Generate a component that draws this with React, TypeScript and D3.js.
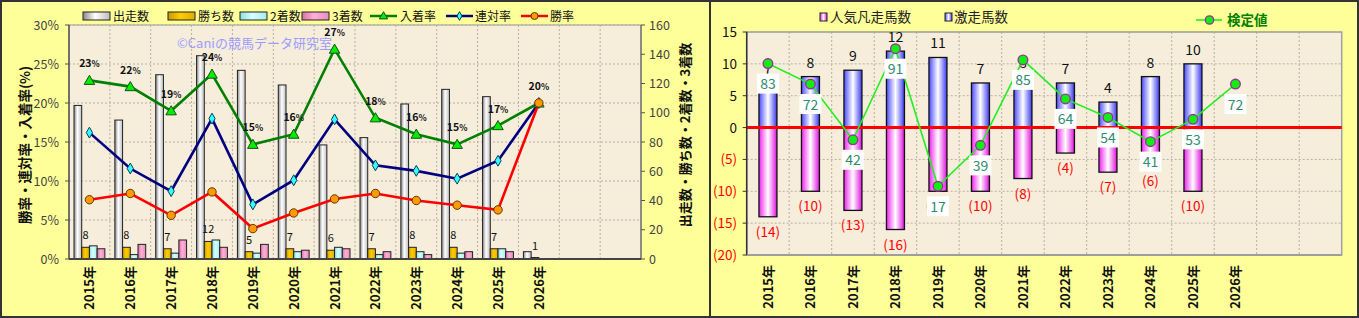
import React from 'react';
import * as d3 from 'd3';

// ---------- data ----------
const years = ['2015年','2016年','2017年','2018年','2019年','2020年','2021年','2022年','2023年','2024年','2025年','2026年'];
const slotCount = 14;

const runners = [105, 95, 126, 139, 129, 119, 78, 83, 106, 116, 111, 5];
const wins = [8, 8, 7, 12, 5, 7, 6, 7, 8, 8, 7, 1];
const seconds = [9, 3, 4, 13, 4, 5, 8, 3, 5, 4, 7, 0];
const thirds = [7, 10, 13, 8, 10, 6, 7, 5, 3, 5, 5, 0];

const winRate = [7.6, 8.4, 5.6, 8.6, 3.9, 5.9, 7.7, 8.4, 7.5, 6.9, 6.3, 20];
const rentaiRate = [16.2, 11.6, 8.7, 18.0, 7.0, 10.1, 17.9, 12.0, 11.3, 10.3, 12.6, 20];
const placeRate = [22.9, 22.1, 19.0, 23.7, 14.7, 16.0, 26.9, 18.1, 16.0, 14.7, 17.1, 20];

const leftTicksPct = [0, 5, 10, 15, 20, 25, 30];
const rightTicksCnt = [0, 20, 40, 60, 80, 100, 120, 140, 160];

const gekisou: (number | null)[] = [7, 8, 9, 12, 11, 7, 8, 7, 4, 8, 10, null];
const bonsou: (number | null)[] = [14, 10, 13, 16, 10, 10, 8, 4, 7, 6, 10, null];
const kentei = [83, 72, 42, 91, 17, 39, 85, 64, 54, 41, 53, 72];
const rightTicks = [-20, -15, -10, -5, 0, 5, 10, 15];

const barSeries = ['出走数', '勝ち数', '2着数', '3着数'];
const barData = [runners, wins, seconds, thirds];
const barFills = ['url(#gRun)', 'url(#gWin)', 'url(#gSec)', 'url(#gThi)'];

const FONT = "'Noto Sans CJK JP', 'Noto Sans', sans-serif";

export default function App() {
  // ---------- left chart ----------
  const L = { x0: 69, x1: 641, y0: 25, y1: 259 };
  const xL = d3.scaleBand<number>().domain(d3.range(slotCount)).range([L.x0, L.x1]);
  const bwL = xL.bandwidth();
  const sub = d3.scaleBand<string>().domain(barSeries).range([5, bwL - 5]);
  const yPct = d3.scaleLinear().domain([0, 30]).range([L.y1, L.y0]);
  const yCnt = d3.scaleLinear().domain([0, 160]).range([L.y1, L.y0]);
  const cx = (i: number) => (xL(i) as number) + bwL / 2;
  const lineGen = (arr: number[]) =>
    d3.line<number>().x((_, i) => cx(i)).y((v) => yPct(v))(arr) || '';

  // ---------- right chart ----------
  const R = { x0: 746.7, x1: 1341.7, y0: 32, y1: 255 };
  const xR = d3.scaleBand<number>().domain(d3.range(slotCount)).range([R.x0, R.x1]);
  const bwR = xR.bandwidth();
  const barWR = 18;
  const yC = d3.scaleLinear().domain([-20, 15]).range([R.y1, R.y0]);
  const yK = d3.scaleLinear().domain([-20, 100]).range([R.y1, R.y0]);
  const cxR = (i: number) => (xR(i) as number) + bwR / 2;
  const kLine = d3.line<number>().x((_, i) => cxR(i)).y((v) => yK(v))(kentei) || '';

  const tri = d3.symbol().type(d3.symbolTriangle).size(48)() || '';
  const dia = d3.symbol().type(d3.symbolDiamond).size(34)() || '';

  const grid = '#b8b0a0';

  return (
    <svg width={1359} height={318} style={{ position: 'absolute', left: 0, top: 0, fontFamily: FONT }}>
      <defs>
        <linearGradient id="gRun" x1="0" x2="1" y1="0" y2="0">
          <stop offset="0" stopColor="#8a8a8a" />
          <stop offset="0.45" stopColor="#ffffff" />
          <stop offset="1" stopColor="#bdbdbd" />
        </linearGradient>
        <linearGradient id="gWin" x1="0" x2="1" y1="0" y2="0">
          <stop offset="0" stopColor="#c99700" />
          <stop offset="0.45" stopColor="#ffcc00" />
          <stop offset="1" stopColor="#e0ac00" />
        </linearGradient>
        <linearGradient id="gSec" x1="0" x2="1" y1="0" y2="0">
          <stop offset="0" stopColor="#8fdede" />
          <stop offset="0.45" stopColor="#d4ffff" />
          <stop offset="1" stopColor="#a6eaea" />
        </linearGradient>
        <linearGradient id="gThi" x1="0" x2="1" y1="0" y2="0">
          <stop offset="0" stopColor="#dc6fa6" />
          <stop offset="0.45" stopColor="#ffb0d8" />
          <stop offset="1" stopColor="#e68cbb" />
        </linearGradient>
        <linearGradient id="gBlue" x1="0" x2="1" y1="0" y2="0">
          <stop offset="0" stopColor="#4a4aff" />
          <stop offset="0.5" stopColor="#ffffff" />
          <stop offset="1" stopColor="#3a3af0" />
        </linearGradient>
        <linearGradient id="gPink" x1="0" x2="1" y1="0" y2="0">
          <stop offset="0" stopColor="#ee22ee" />
          <stop offset="0.5" stopColor="#ffffff" />
          <stop offset="1" stopColor="#e010e0" />
        </linearGradient>
      </defs>

      {/* page background */}
      <rect x={0} y={0} width={1359} height={318} fill="#ffff99" />

      {/* ================= LEFT CHART ================= */}
      <rect x={L.x0} y={L.y0} width={L.x1 - L.x0} height={L.y1 - L.y0} fill="#f6eddb" stroke="#9a9a9a" />
      {leftTicksPct.map((t) => (
        <line key={'hg' + t} x1={L.x0} x2={L.x1} y1={yPct(t)} y2={yPct(t)} stroke={grid} strokeDasharray="2,2" />
      ))}
      {d3.range(1, slotCount).map((i) => (
        <line key={'vg' + i} x1={xL(i) as number} x2={xL(i) as number} y1={L.y0} y2={L.y1} stroke={grid} strokeDasharray="2,2" />
      ))}

      {/* watermark */}
      <text x={177} y={47.5} fontSize={13} fill="#9c9cff">©Caniの競馬データ研究室</text>

      {/* bars */}
      {barData.map((arr, s) =>
        arr.map((v, i) => {
          const x = (xL(i) as number) + (sub(barSeries[s]) as number);
          const y = yCnt(v);
          return (
            <rect key={`b${s}-${i}`} x={x} y={y} width={sub.bandwidth()} height={L.y1 - y}
              fill={barFills[s]} stroke="#222" strokeWidth={1} />
          );
        })
      )}
      {/* win count labels */}
      {wins.map((v, i) => (
        <text key={'wl' + i} x={(xL(i) as number) + (sub('勝ち数') as number) + sub.bandwidth() / 2}
          y={yCnt(v) - 8} fontSize={11} textAnchor="middle" fill="#111">{v}</text>
      ))}

      {/* lines */}
      <path d={lineGen(placeRate)} fill="none" stroke="#008000" strokeWidth={2.6} />
      <path d={lineGen(rentaiRate)} fill="none" stroke="#000080" strokeWidth={2.6} />
      <path d={lineGen(winRate)} fill="none" stroke="#ff0000" strokeWidth={2.6} />
      {placeRate.map((v, i) => (
        <path key={'tm' + i} d={tri} transform={`translate(${cx(i)},${yPct(v) + 1})`} fill="#00ee00" stroke="#1a4d1a" strokeWidth={1} />
      ))}
      {rentaiRate.map((v, i) => (
        <path key={'dm' + i} d={dia} transform={`translate(${cx(i)},${yPct(v)})`} fill="#33ffff" stroke="#0b3b5b" strokeWidth={1} />
      ))}
      {winRate.map((v, i) => (
        <circle key={'cm' + i} cx={cx(i)} cy={yPct(v)} r={4.2} fill="#ff9900" stroke="#663300" strokeWidth={1} />
      ))}
      {placeRate.map((v, i) => (
        <text key={'pl' + i} x={cx(i)} y={yPct(v) - 13} fontSize={10.5} fontWeight="bold" textAnchor="middle" fill="#111">
          {Math.round(v)}<tspan fontSize={8.5}>%</tspan>
        </text>
      ))}

      {/* axes */}
      <line x1={L.x0} x2={L.x0} y1={L.y0} y2={L.y1} stroke="#555" strokeWidth={1.5} />
      <line x1={L.x1} x2={L.x1} y1={L.y0} y2={L.y1} stroke="#666" strokeWidth={1.2} />
      <line x1={L.x0} x2={L.x1} y1={L.y1} y2={L.y1} stroke="#444" strokeWidth={1.8} />
      {leftTicksPct.map((t) => (
        <g key={'lt' + t}>
          <line x1={L.x0 - 4} x2={L.x0} y1={yPct(t)} y2={yPct(t)} stroke="#555" />
          <text x={59} y={yPct(t) + 4.5} fontSize={12.5} textAnchor="end" fill="#444">{t}%</text>
        </g>
      ))}
      {rightTicksCnt.map((t) => (
        <g key={'rt' + t}>
          <line x1={L.x1} x2={L.x1 + 4} y1={yCnt(t)} y2={yCnt(t)} stroke="#555" />
          <text x={649} y={yCnt(t) + 4.5} fontSize={12.5} textAnchor="start" fill="#444">{t}</text>
        </g>
      ))}
      {years.map((yr, i) => (
        <text key={'xl' + i} transform={`translate(${cx(i) + 5},266) rotate(-90)`} fontSize={13} fontWeight="bold" textAnchor="end" fill="#111">{yr}</text>
      ))}
      <text transform="translate(30,145) rotate(-90)" fontSize={13.5} fontWeight="bold" textAnchor="middle" fill="#111">勝率・連対率・入着率(%)</text>
      <text transform="translate(690,135) rotate(-90)" fontSize={13} fontWeight="bold" textAnchor="middle" fill="#111">出走数・勝ち数・2着数・3着数</text>

      {/* left legend */}
      {barSeries.map((s, k) => {
        const xs = [83, 168, 240, 302][k];
        return (
          <g key={'lg' + k}>
            <rect x={xs} y={12} width={27} height={8} fill={barFills[k]} stroke="#222" />
            <text x={xs + 30} y={21} fontSize={12} fill="#111">{s}</text>
          </g>
        );
      })}
      <g>
        <line x1={370} x2={397} y1={16} y2={16} stroke="#008000" strokeWidth={2.5} />
        <path d={d3.symbol().type(d3.symbolTriangle).size(30)() || ''} transform="translate(383.5,16.5)" fill="#00ee00" stroke="#1a4d1a" />
        <text x={400} y={21} fontSize={12} fill="#111">入着率</text>
        <line x1={446} x2={473} y1={16} y2={16} stroke="#000080" strokeWidth={2.5} />
        <path d={d3.symbol().type(d3.symbolDiamond).size(22)() || ''} transform="translate(459.5,16)" fill="#33ffff" stroke="#0b3b5b" />
        <text x={475} y={21} fontSize={12} fill="#111">連対率</text>
        <line x1={521} x2={548} y1={16} y2={16} stroke="#ff0000" strokeWidth={2.5} />
        <circle cx={534.5} cy={16} r={3.5} fill="#ff9900" stroke="#663300" />
        <text x={550} y={21} fontSize={12} fill="#111">勝率</text>
      </g>

      {/* ================= RIGHT CHART ================= */}
      <rect x={R.x0} y={R.y0} width={R.x1 - R.x0} height={R.y1 - R.y0} fill="#f6eddb" />
      {rightTicks.map((t) => (
        <line key={'rhg' + t} x1={R.x0} x2={R.x1} y1={yC(t)} y2={yC(t)} stroke={grid} strokeDasharray="2,2" />
      ))}
      {d3.range(1, slotCount).map((i) => (
        <line key={'rvg' + i} x1={xR(i) as number} x2={xR(i) as number} y1={R.y0} y2={R.y1} stroke={grid} strokeDasharray="2,2" />
      ))}
      <rect x={R.x0} y={R.y0} width={R.x1 - R.x0} height={R.y1 - R.y0} fill="none" stroke="#a0a0a0" strokeWidth={1.5} />

      {bonsou.map((v, i) =>
        v == null ? null : (
          <rect key={'pb' + i} x={cxR(i) - barWR / 2} y={yC(0)} width={barWR} height={yC(-v) - yC(0)}
            fill="url(#gPink)" stroke="#111" strokeWidth={1.3} />
        )
      )}
      {gekisou.map((v, i) =>
        v == null ? null : (
          <rect key={'bb' + i} x={cxR(i) - barWR / 2} y={yC(v)} width={barWR} height={yC(0) - yC(v)}
            fill="url(#gBlue)" stroke="#111" strokeWidth={1.3} />
        )
      )}
      <line x1={R.x0} x2={R.x1} y1={yC(0)} y2={yC(0)} stroke="#ff0000" strokeWidth={3} />

      {gekisou.map((v, i) =>
        v == null ? null : (
          <text key={'gl' + i} x={cxR(i)} y={yC(v) - 9} fontSize={14} textAnchor="middle" fill="#111">{v}</text>
        )
      )}
      {bonsou.map((v, i) =>
        v == null ? null : (
          <text key={'bl' + i} x={cxR(i)} y={yC(-v) + 20} fontSize={13.5} textAnchor="middle" fill="#ff0000">({v})</text>
        )
      )}

      <path d={kLine} fill="none" stroke="#22ee22" strokeWidth={1.6} />
      {kentei.map((v, i) => (
        <circle key={'km' + i} cx={cxR(i)} cy={yK(v)} r={4.8} fill="#11ee11" stroke="#993399" strokeWidth={1.4} />
      ))}
      {kentei.map((v, i) => (
        <g key={'kl' + i}>
          <rect x={cxR(i) - 11} y={yK(v) + 10} width={22} height={20} fill="#ffffff" />
          <text x={cxR(i)} y={yK(v) + 25.5} fontSize={14} textAnchor="middle" fill="#2e8b6e">{v}</text>
        </g>
      ))}

      <line x1={R.x0} x2={R.x0} y1={R.y0} y2={R.y1} stroke="#333" strokeWidth={1.5} />
      <line x1={R.x0} x2={R.x1} y1={R.y1} y2={R.y1} stroke="#999" strokeWidth={1.5} />
      {rightTicks.map((t) => (
        <g key={'rtk' + t}>
          <line x1={R.x0 - 4} x2={R.x0} y1={yC(t)} y2={yC(t)} stroke="#333" />
          <text x={737} y={yC(t) + 5} fontSize={13.5} textAnchor="end" fill={t < 0 ? '#ff0000' : '#111'}>
            {t < 0 ? `(${-t})` : t}
          </text>
        </g>
      ))}
      {years.map((yr, i) => (
        <text key={'rxl' + i} transform={`translate(${cxR(i) + 5},265) rotate(-90)`} fontSize={13} fontWeight="bold" textAnchor="end" fill="#111">{yr}</text>
      ))}

      {/* right legend */}
      <rect x={820} y={13} width={7} height={8} fill="url(#gPink)" stroke="#222" />
      <text x={830} y={22} fontSize={13.5} fill="#222">人気凡走馬数</text>
      <rect x={945} y={13} width={7} height={8} fill="url(#gBlue)" stroke="#222" />
      <text x={954} y={22} fontSize={13.5} fill="#222">激走馬数</text>
      <line x1={1196} x2={1222} y1={20} y2={20} stroke="#22ee22" strokeWidth={1.6} />
      <circle cx={1209.5} cy={20} r={4.2} fill="#11ee11" stroke="#993399" strokeWidth={1.3} />
      <text x={1227} y={25} fontSize={13.5} fontWeight="bold" fill="#008000">検定値</text>

      {/* frames */}
      <rect x={1} y={1} width={1357} height={316} fill="none" stroke="#333" strokeWidth={2} />
      <line x1={710} x2={710} y1={0} y2={318} stroke="#333" strokeWidth={2} />
    </svg>
  );
}
